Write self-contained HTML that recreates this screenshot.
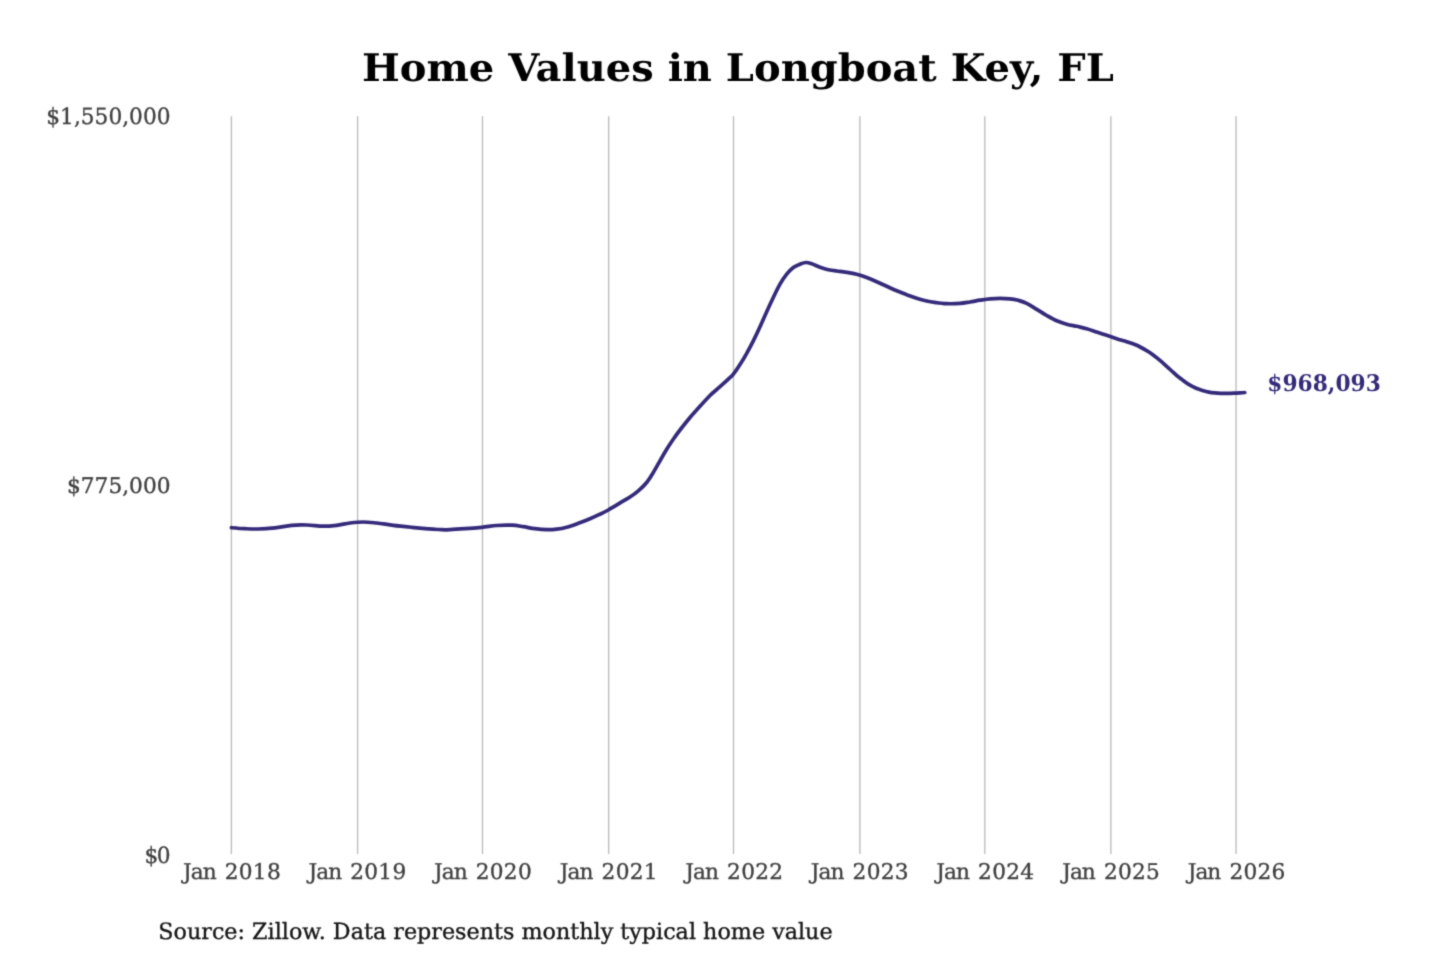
<!DOCTYPE html>
<html lang="en">
<head>
<meta charset="utf-8">
<title>Home Values in Longboat Key, FL</title>
<style>
  html, body { margin: 0; padding: 0; background: #ffffff; }
  body { width: 1440px; height: 960px; overflow: hidden; font-family: "DejaVu Serif", "Liberation Serif", serif; }
  svg { display: block; }
  text { font-family: "DejaVu Serif", "Liberation Serif", serif; text-rendering: geometricPrecision; }
  .title { font-weight: bold; font-size: 40px; fill: #000000; text-anchor: middle; }
  .ytick { font-size: 21.7px; fill: #404040; stroke: #404040; stroke-width: 0.35px; text-anchor: end; }
  .xtick { font-size: 21.7px; fill: #404040; stroke: #404040; stroke-width: 0.35px; text-anchor: middle; }
  .source { font-size: 22.25px; fill: #151515; stroke: #151515; stroke-width: 0.35px; text-anchor: start; }
  .endlabel { font-size: 21.75px; font-weight: bold; fill: #342a7a; text-anchor: start; }
  .grid line { stroke: #bcbcbc; stroke-width: 1.35; }
  .series { fill: none; stroke: #342a7a; stroke-width: 3.7; stroke-linecap: round; stroke-linejoin: round; }
</style>
</head>
<body>
<svg width="1440" height="960" viewBox="0 0 1440 960">
  <defs>
    <filter id="soft" x="0" y="0" width="1440" height="960" filterUnits="userSpaceOnUse" color-interpolation-filters="sRGB">
      <feConvolveMatrix order="3" kernelMatrix="0.03 0.10 0.03 0.10 0.48 0.10 0.03 0.10 0.03" divisor="1" edgeMode="duplicate" preserveAlpha="false"/>
    </filter>
  </defs>
  <rect x="0" y="0" width="1440" height="960" fill="#ffffff"/>
  <g filter="url(#soft)">
  <text class="title" transform="translate(737.9 81.3) scale(1 0.95)">Home Values in Longboat Key, FL</text>

  <g class="grid">
    <line x1="231.4" y1="116.3" x2="231.4" y2="854"/>
    <line x1="357.6" y1="116.3" x2="357.6" y2="854"/>
    <line x1="482.5" y1="116.3" x2="482.5" y2="854"/>
    <line x1="608.7" y1="116.3" x2="608.7" y2="854"/>
    <line x1="733.5" y1="116.3" x2="733.5" y2="854"/>
    <line x1="859.9" y1="116.3" x2="859.9" y2="854"/>
    <line x1="984.8" y1="116.3" x2="984.8" y2="854"/>
    <line x1="1110.9" y1="116.3" x2="1110.9" y2="854"/>
    <line x1="1236.05" y1="116.3" x2="1236.05" y2="854"/>
  </g>

  <g>
    <text class="ytick" transform="translate(170.5 124.05) scale(1 1.035)">$1,550,000</text>
    <text class="ytick" transform="translate(170.5 493.15) scale(1 0.995)">$775,000</text>
    <text class="ytick" transform="translate(170.5 863.4) scale(1 1.035)" dx="0 -1.5">$0</text>
  </g>

  <g>
    <text class="xtick" x="231.9" y="879.4" dx="0 -1 -1 0 1.2 0.23 0.23 0.23">Jan 2018</text>
    <text class="xtick" x="357.4" y="879.4" dx="0 -1 -1 0 1.2 0.23 0.23 0.23">Jan 2019</text>
    <text class="xtick" x="482.9" y="879.4" dx="0 -1 -1 0 1.2 0.23 0.23 0.23">Jan 2020</text>
    <text class="xtick" x="608.7" y="879.4" dx="0 -1 -1 0 1.2 0.23 0.23 0.23">Jan 2021</text>
    <text class="xtick" x="734.2" y="879.4" dx="0 -1 -1 0 1.2 0.23 0.23 0.23">Jan 2022</text>
    <text class="xtick" x="859.7" y="879.4" dx="0 -1 -1 0 1.2 0.23 0.23 0.23">Jan 2023</text>
    <text class="xtick" x="985.2" y="879.4" dx="0 -1 -1 0 1.2 0.23 0.23 0.23">Jan 2024</text>
    <text class="xtick" x="1111.0" y="879.4" dx="0 -1 -1 0 1.2 0.23 0.23 0.23">Jan 2025</text>
    <text class="xtick" x="1236.5" y="879.4" dx="0 -1 -1 0 1.2 0.23 0.23 0.23">Jan 2026</text>
  </g>

  <path class="series" d="M231.4 527.7 C233.7 527.9 240.5 528.5 245.0 528.7 C249.5 528.9 253.3 529.1 258.3 529.0 C263.3 528.9 269.4
      528.4 275.0 527.8 C280.6 527.2 286.4 525.8 291.7 525.3 C297.0 524.8 301.4 524.9 306.7 525.0 C312.0 525.1 318.3
      526.2 323.3 526.2 C328.3 526.2 332.2 525.8 336.7 525.3 C341.1 524.8 345.6 523.5 350.0 523.0 C354.4 522.5 358.9
      522.0 363.3 522.0 C367.8 522.0 371.7 522.5 376.7 523.0 C381.7 523.5 387.5 524.6 393.3 525.3 C399.1 526.0 405.9
      526.7 411.7 527.3 C417.5 527.9 423.3 528.4 428.3 528.8 C433.3 529.2 438.1 529.6 441.7 529.7 C445.3 529.9 446.1
      529.9 450.0 529.7 C453.9 529.5 459.7 529.1 465.0 528.7 C470.3 528.3 476.4 527.8 481.7 527.3 C487.0 526.8 491.7
      525.9 496.7 525.5 C501.7 525.1 507.3 525.0 511.7 525.2 C516.1 525.4 519.4 526.1 523.3 526.7 C527.2 527.3 531.1
      528.2 535.0 528.7 C538.9 529.2 543.1 529.6 546.7 529.7 C550.3 529.8 553.4 529.6 556.7 529.2 C560.0 528.8 563.1
      528.2 566.7 527.2 C570.3 526.2 574.4 524.7 578.3 523.3 C582.2 521.9 586.4 520.2 590.0 518.7 C593.6 517.2 597.0
      515.7 600.0 514.2 C603.0 512.8 605.1 511.8 608.3 510.0 C611.5 508.2 615.4 505.8 619.0 503.6 C622.6 501.4 626.8
      499.1 630.0 497.0 C633.2 494.9 635.5 493.2 638.3 490.8 C641.1 488.4 644.2 485.6 646.7 482.5 C649.2 479.4 651.1
      476.1 653.3 472.5 C655.5 468.9 657.8 464.7 660.0 460.8 C662.2 456.9 664.5 452.8 666.7 449.2 C668.9 445.6 671.1
      442.4 673.3 439.2 C675.5 436.0 677.2 433.6 680.0 430.0 C682.8 426.4 686.7 421.4 690.0 417.5 C693.3 413.6 696.7
      410.0 700.0 406.3 C703.3 402.6 706.7 398.8 710.0 395.5 C713.3 392.2 717.0 389.4 720.0 386.7 C723.0 384.0 726.1
      381.3 728.3 379.2 C730.5 377.1 731.3 376.6 733.3 374.2 C735.2 371.8 737.8 368.1 740.0 364.6 C742.2 361.1 744.5
      357.3 746.7 353.3 C748.9 349.3 751.1 345.2 753.3 340.8 C755.5 336.4 757.8 331.6 760.0 326.7 C762.2 321.8 764.5
      316.6 766.7 311.7 C768.9 306.8 771.1 302.1 773.3 297.5 C775.5 292.9 777.8 288.1 780.0 284.2 C782.2 280.3 784.5
      277.0 786.7 274.2 C788.9 271.4 791.1 269.2 793.3 267.5 C795.5 265.8 797.9 265.0 800.0 264.2 C802.1 263.4 803.8
      262.6 805.8 262.5 C807.8 262.4 809.3 263.0 811.7 263.8 C814.1 264.6 817.2 266.2 820.0 267.2 C822.8 268.2 825.5
      269.1 828.3 269.7 C831.1 270.3 833.6 270.6 836.7 271.0 C839.8 271.4 843.4 271.8 846.7 272.3 C850.0 272.8 853.4
      273.3 856.7 274.2 C860.0 275.1 863.4 276.2 866.7 277.5 C870.0 278.8 873.4 280.2 876.7 281.7 C880.0 283.2 883.4
      284.8 886.7 286.3 C890.0 287.8 893.4 289.4 896.7 290.8 C900.0 292.2 903.4 293.4 906.7 294.7 C910.0 295.9 913.4
      297.2 916.7 298.3 C920.0 299.4 923.4 300.3 926.7 301.0 C930.0 301.7 933.4 302.2 936.7 302.7 C940.0 303.1 942.8
      303.6 946.7 303.7 C950.6 303.8 956.1 303.7 960.0 303.4 C963.9 303.1 966.7 302.5 970.0 302.0 C973.3 301.5 976.7
      300.7 980.0 300.2 C983.3 299.7 986.7 299.1 990.0 298.8 C993.3 298.5 996.7 298.3 1000.0 298.3 C1003.3 298.3
      1007.0 298.5 1010.0 298.8 C1013.0 299.1 1015.5 299.6 1018.3 300.3 C1021.1 301.1 1023.6 301.8 1026.7 303.3
      C1029.8 304.8 1033.4 307.3 1036.7 309.3 C1040.0 311.3 1043.4 313.6 1046.7 315.5 C1050.0 317.4 1053.4 319.4
      1056.7 320.8 C1060.0 322.2 1063.4 323.3 1066.7 324.2 C1070.0 325.1 1073.4 325.6 1076.7 326.3 C1080.0 327.1
      1083.4 327.8 1086.7 328.7 C1090.0 329.6 1093.4 330.9 1096.7 332.0 C1100.0 333.1 1103.4 334.2 1106.7 335.3
      C1110.0 336.4 1113.4 337.6 1116.7 338.7 C1120.0 339.8 1123.4 340.6 1126.7 341.7 C1130.0 342.8 1133.4 343.9
      1136.7 345.3 C1140.0 346.8 1143.6 348.9 1146.2 350.4 C1148.9 351.9 1150.4 352.9 1152.5 354.4 C1154.6 355.9
      1156.7 357.7 1158.8 359.4 C1160.8 361.1 1162.9 362.9 1165.0 364.8 C1167.1 366.7 1169.2 368.6 1171.2 370.5
      C1173.3 372.4 1175.4 374.5 1177.5 376.2 C1179.6 378.0 1181.7 379.4 1183.8 380.9 C1185.8 382.4 1187.9 383.9
      1190.0 385.1 C1192.1 386.3 1194.2 387.3 1196.2 388.2 C1198.3 389.1 1200.4 389.9 1202.5 390.5 C1204.6 391.1
      1206.7 391.7 1208.8 392.1 C1210.8 392.5 1212.9 392.7 1215.0 392.9 C1217.1 393.1 1219.2 393.2 1221.2 393.3
      C1223.3 393.4 1225.4 393.4 1227.5 393.4 C1229.6 393.4 1231.7 393.3 1233.8 393.2 C1235.8 393.1 1238.2 393.0
      1240.0 392.9 C1241.8 392.8 1243.9 392.6 1244.7 392.5"/>

  <text class="endlabel" transform="translate(1267.3 391) scale(1 1.05)">$968,093</text>
  <text class="source" transform="translate(158.3 938.9) scale(1 1.005)">Source: Zillow. Data represents monthly typical home value</text>
  </g>
</svg>
</body>
</html>
